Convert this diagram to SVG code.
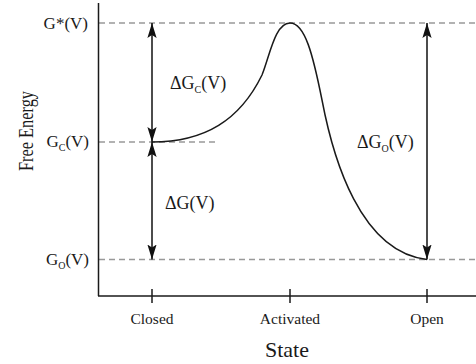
<svg xmlns="http://www.w3.org/2000/svg" width="476" height="364" viewBox="0 0 476 364">
<style>
text{font-family:"Liberation Serif","Times New Roman",serif;fill:#1a1a1a}
.lab{font-size:17px}
.dl{font-size:18px}
.sub{font-size:10px}
.tick{font-size:15.5px}
.dash{stroke:#999;stroke-width:1.3;stroke-dasharray:6 4;fill:none}
.ax{stroke:#1a1a1a;stroke-width:1.5;fill:none}
.arr{stroke:#111;stroke-width:1.5;fill:none;marker-start:url(#ah);marker-end:url(#ah)}
</style>
<defs>
<marker id="ah" markerUnits="userSpaceOnUse" markerWidth="16" markerHeight="10" viewBox="0 -5 16 10" refX="15" refY="0" orient="auto-start-reverse">
<path d="M0,-4.6 L15,0 L0,4.6 L3,0 Z" fill="#111"/>
</marker>
</defs>
<rect width="476" height="364" fill="#fff"/>
<g id="levels">
<line class="dash" x1="99" y1="23" x2="476" y2="23"/>
<line class="dash" x1="99" y1="142" x2="218" y2="142"/>
<line class="dash" x1="99" y1="259.5" x2="476" y2="259.5"/>
</g>
<g id="axes">
<line class="ax" x1="98.5" y1="3" x2="98.5" y2="296"/>
<line class="ax" x1="98" y1="296" x2="476" y2="296"/>
<line class="ax" x1="152" y1="289" x2="152" y2="303"/>
<line class="ax" x1="290" y1="289" x2="290" y2="303"/>
<line class="ax" x1="427" y1="289" x2="427" y2="303"/>
</g>
<g id="curve">
<path class="ax" d="M152,142 C205,142 240,120 262,75 C270,55 275,23 290,23 C305,23 313,55 322,100 C333,158 360,252 427,259.5"/>
</g>
<g id="connectors">
<line class="arr" x1="152" y1="23" x2="152" y2="142"/>
<line class="arr" x1="152" y1="142" x2="152" y2="259.5"/>
<line class="arr" x1="427" y1="23" x2="427" y2="259.5"/>
</g>
<g id="ylabels">
<text class="lab" x="88" y="28.5" text-anchor="end">G*(V)</text>
<text class="lab" x="89" y="147" text-anchor="end">G<tspan class="sub" dy="4">C</tspan><tspan dy="-4">(V)</tspan></text>
<text class="lab" x="89" y="265" text-anchor="end">G<tspan class="sub" dy="4">O</tspan><tspan dy="-4">(V)</tspan></text>
</g>
<g id="deltas">
<text class="dl" x="170" y="89">ΔG<tspan class="sub" dy="4">C</tspan><tspan dy="-4">(V)</tspan></text>
<text class="dl" x="165" y="209">ΔG(V)</text>
<text class="dl" x="357" y="148">ΔG<tspan class="sub" dy="4">O</tspan><tspan dy="-4">(V)</tspan></text>
</g>
<g id="xlabels">
<text class="tick" x="152" y="324" text-anchor="middle">Closed</text>
<text class="tick" x="290" y="324" text-anchor="middle">Activated</text>
<text class="tick" x="427" y="324" text-anchor="middle">Open</text>
<text x="287" y="357" text-anchor="middle" font-size="22">State</text>
<text x="33" y="131" text-anchor="middle" font-size="21" transform="rotate(-90 33 131)" textLength="80" lengthAdjust="spacingAndGlyphs">Free Energy</text>
</g>
</svg>
